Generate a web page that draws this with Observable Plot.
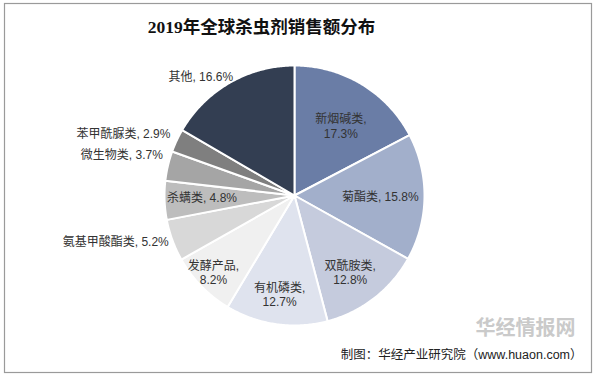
<!DOCTYPE html>
<html>
<head>
<meta charset="utf-8">
<script src="https://cdn.jsdelivr.net/npm/d3@7"></script>
<script src="https://cdn.jsdelivr.net/npm/@observablehq/plot@0.6"></script>
<style>
  html, body { margin: 0; padding: 0; background: #fff; }
</style>
</head>
<body>
<div id="chart"></div>
<script>
// ---- data ----
const categories = ["新烟碱类", "菊酯类", "双酰胺类", "有机磷类", "发酵产品", "氨基甲酸酯类", "杀螨类", "微生物类", "苯甲酰脲类", "其他"];
const values = [17.3, 15.8, 12.8, 12.7, 8.2, 5.2, 4.8, 3.7, 2.9, 16.6];
const colors = ["#6a7da6", "#a2afcb", "#c5cbdd", "#dfe3ee", "#f0f0f0", "#d8d8d8", "#bdbdbd", "#a5a5a5", "#7f7f7f", "#333e52"];
const titleText = "2019年全球杀虫剂销售额分布";
const captionText = "制图：华经产业研究院（www.huaon.com）";
const watermarkText = "华经情报网";

// ---- label layout (radius factor, offsets, anchor, two-line) ----
const labelRadius = [0.60, 0.66, 0.70, 0.76, 0.85, 1.03, 0.72, 1.04, 1.053, 1.00];
const labelDx     = [6, 0, 0, -1, -2, 0, 1, 0, 0, -29];
const labelDy     = [-3, 0, 5, 1, 0, 1, -2, -10, -3, -6];
const labelAnchor = ["middle", "middle", "middle", "middle", "middle", "end", "middle", "end", "end", "middle"];
const labelBreak  = [true, false, true, true, true, false, false, false, false, false];

// ---- geometry ----
const W = 598, H = 377, cx = 294, cy = 195, R = 130;
const arcs = d3.pie().sort(null).value(d => d)(values);
const polar = (a, r) => [cx + r * Math.sin(a), cy - r * Math.cos(a)];

const sliceRows = [];
arcs.forEach((a, i) => {
  const pts = [[cx, cy]];
  const n = Math.max(2, Math.ceil((a.endAngle - a.startAngle) / 0.01));
  for (let k = 0; k <= n; k++) {
    pts.push(polar(a.startAngle + (a.endAngle - a.startAngle) * k / n, R));
  }
  pts.push([cx, cy]);
  pts.forEach(([x, y]) => sliceRows.push({name: categories[i], x, y, color: colors[i]}));
});

const labelRows = arcs.map((a, i) => {
  const mid = (a.startAngle + a.endAngle) / 2;
  const [x, y] = polar(mid, R * labelRadius[i]);
  const text = categories[i] + "," + (labelBreak[i] ? "\n" : " ") + values[i].toFixed(1) + "%";
  return {x: x + labelDx[i], y: y + labelDy[i], text, anchor: labelAnchor[i]};
});

const font = "'Liberation Sans', Arial, 'Noto Sans CJK SC', sans-serif";

const chart = Plot.plot({
  width: W,
  height: H,
  margin: 0,
  x: {domain: [0, W], range: [0, W], axis: null},
  y: {domain: [0, H], range: [0, H], axis: null},
  color: {type: "identity"},
  style: {background: "#fff", fontFamily: font},
  marks: [
    Plot.frame({stroke: "#9a9a9a", strokeWidth: 1.2, insetLeft: 4, insetTop: 3, insetRight: 7, insetBottom: 5}),
    Plot.line(sliceRows, {x: "x", y: "y", z: "name", fill: "color", stroke: "#fff", strokeWidth: 2, strokeLinejoin: "round", curve: "linear"}),
    Plot.text(labelRows.filter(d => d.anchor === "middle"), {x: "x", y: "y", text: "text", textAnchor: "middle", lineAnchor: "middle", lineHeight: 1.2, fontSize: 12, fill: "#333"}),
    Plot.text(labelRows.filter(d => d.anchor === "end"), {x: "x", y: "y", text: "text", textAnchor: "end", lineAnchor: "middle", fontSize: 12, fill: "#333"}),
    Plot.text([titleText], {frameAnchor: "top", dx: -38, dy: 27, lineAnchor: "middle", fontSize: 17.5, fontWeight: "bold", fill: "#111", fontFamily: "'Liberation Serif', 'Noto Sans CJK SC', serif"}),
    Plot.text([watermarkText], {frameAnchor: "bottom-right", dx: -23, dy: -49, lineAnchor: "middle", textAnchor: "end", fontSize: 20, fontWeight: "bold", fill: "#cacaca"}),
    Plot.text([captionText], {frameAnchor: "bottom-right", dx: -16, dy: -23, lineAnchor: "middle", textAnchor: "end", fontSize: 12.5, fill: "#222"})
  ]
});
document.getElementById("chart").appendChild(chart);
</script>
</body>
</html>
